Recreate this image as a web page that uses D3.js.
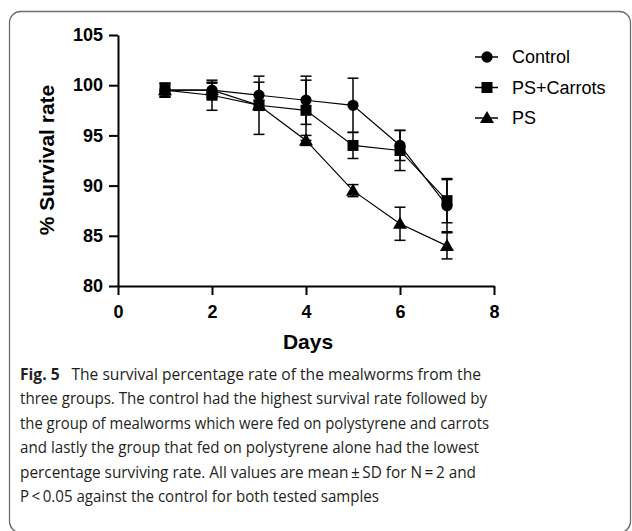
<!DOCTYPE html>
<html>
<head>
<meta charset="utf-8">
<style>
  body { margin: 0; background: #fff; }
  svg { font-family: Arial, "Liberation Sans", sans-serif; }
  .axis path, .axis line { stroke: #000; stroke-width: 2px; }
  .axis text { font-size: 18px; font-weight: bold; fill: #000; }
  .caption { font-family: "Open Sans", sans-serif; font-size: 16px; fill: #231f20; }
</style>
</head>
<body>
<svg width="632" height="531"></svg>
<script src="https://d3js.org/d3.v7.min.js"></script>
<script>
// values
var days = [1, 2, 3, 4, 5, 6, 7];
var controlMean = [99.5, 99.5, 99, 98.5, 98, 94, 88];
var controlSD   = [0.7, 0.7, 1.3, 2.4, 2.7, 1.5, 2.6];
var carrotsMean = [99.5, 99, 98, 97.5, 94, 93.5, 88.5];
var carrotsSD   = [0.7, 1.5, 2.9, 3.0, 1.3, 2.0, 2.2];
var psMean      = [99.5, 99.5, 98, 94.5, 89.5, 86.2, 84];
var psSD        = [0.6, 0.8, 0.5, 0.5, 0.6, 1.65, 1.3];

var seriesNames = ["Control", "PS+Carrots", "PS"];
var xTicks = [0, 2, 4, 6, 8];
var yTicks = [80, 85, 90, 95, 100, 105];

var captionLines = [
  "The survival percentage rate of the mealworms from the",
  "three groups. The control had the highest survival rate followed by",
  "the group of mealworms which were fed on polystyrene and carrots",
  "and lastly the group that fed on polystyrene alone had the lowest",
  "percentage surviving rate. All values are mean\u2009\u00b1\u2009SD for N\u2009=\u20092 and",
  "P\u2009<\u20090.05 against the control for both tested samples"
];
var captionWidths = [461, 467, 469, 459, 456, 359];

var svg = d3.select("svg");

// panel frame
svg.append("rect")
    .attr("x", 9.5).attr("y", 11.5)
    .attr("width", 621).attr("height", 521)
    .attr("rx", 11)
    .attr("fill", "none")
    .attr("stroke", "#6d6e71")
    .attr("stroke-width", 1.3);

var x = d3.scaleLinear().domain([0, 8]).range([118, 494]);
var y = d3.scaleLinear().domain([80, 105]).range([286, 35]);

svg.append("g")
    .attr("class", "axis")
    .attr("transform", "translate(0,286)")
    .call(d3.axisBottom(x).tickValues(xTicks).tickSize(9).tickPadding(10).tickSizeOuter(0));

svg.append("g")
    .attr("class", "axis")
    .attr("transform", "translate(118,0)")
    .call(d3.axisLeft(y).tickValues(yTicks).tickSize(9).tickPadding(6).tickSizeOuter(0));

svg.append("text")
    .attr("x", 308).attr("y", 349)
    .attr("text-anchor", "middle")
    .style("font-size", "21px").style("font-weight", "bold")
    .text("Days");

svg.append("text")
    .attr("transform", "translate(54,160) rotate(-90)")
    .attr("text-anchor", "middle")
    .style("font-size", "21px").style("font-weight", "bold")
    .text("% Survival rate");

function rows(means, sds) {
  return days.map(function(d, i) { return { day: d, mean: means[i], sd: sds[i] }; });
}

var series = [
  { name: "PS", shape: "triangle", data: rows(psMean, psSD) },
  { name: "PS+Carrots", shape: "square", data: rows(carrotsMean, carrotsSD) },
  { name: "Control", shape: "circle", data: rows(controlMean, controlSD) }
];

var symbols = {
  circle: d3.symbol().type(d3.symbolCircle).size(100),
  square: d3.symbol().type(d3.symbolSquare).size(121),
  triangle: d3.symbol().type(d3.symbolTriangle).size(85)
};

var line = d3.line()
    .x(function(d) { return x(d.day); })
    .y(function(d) { return y(d.mean); });

// error bars first
series.forEach(function(s) {
  var g = svg.append("g");
  s.data.forEach(function(d) {
    var cx = x(d.day), top = y(d.mean + d.sd), bot = y(d.mean - d.sd);
    g.append("line").attr("x1", cx).attr("x2", cx).attr("y1", top).attr("y2", bot)
        .attr("stroke", "#000").attr("stroke-width", 1.5);
    [top, bot].forEach(function(yy) {
      g.append("line").attr("x1", cx - 5.5).attr("x2", cx + 5.5).attr("y1", yy).attr("y2", yy)
          .attr("stroke", "#000").attr("stroke-width", 1.5);
    });
  });
});

series.forEach(function(s) {
  svg.append("path")
      .datum(s.data)
      .attr("fill", "none")
      .attr("stroke", "#000")
      .attr("stroke-width", 1.2)
      .attr("d", line);
});

series.forEach(function(s) {
  svg.append("g").selectAll("path")
      .data(s.data)
    .enter().append("path")
      .attr("transform", function(d) {
        return "translate(" + x(d.day) + "," + (y(d.mean) + (s.shape === "triangle" ? 1 : 0)) + ")";
      })
      .attr("d", symbols[s.shape]())
      .attr("fill", "#000");
});

// legend
var legendShapes = { "Control": "circle", "PS+Carrots": "square", "PS": "triangle" };
var legend = svg.append("g").selectAll("g")
    .data(seriesNames)
  .enter().append("g")
    .attr("transform", function(d, i) { return "translate(0," + (57 + i * 30.5) + ")"; });

legend.append("line")
    .attr("x1", 475).attr("x2", 498)
    .attr("stroke", "#000").attr("stroke-width", 1.5);
legend.append("path")
    .attr("transform", function(d) { return "translate(487," + (d === "PS" ? 1 : 0) + ")"; })
    .attr("d", function(d) { return symbols[legendShapes[d]](); })
    .attr("fill", "#000");
legend.append("text")
    .attr("x", 512).attr("dy", "0.36em")
    .style("font-size", "18px")
    .text(function(d) { return d; });

// caption
var cap = svg.append("g").attr("class", "caption");
captionLines.forEach(function(txt, i) {
  var t = cap.append("text")
      .attr("x", 20)
      .attr("y", 380 + i * 24.4)
      .attr("textLength", captionWidths[i])
      .attr("lengthAdjust", "spacingAndGlyphs");
  if (i === 0) {
    t.append("tspan").style("font-weight", "bold").text("Fig. 5");
    t.append("tspan").text("\u2002 " + txt);
  } else {
    t.text(txt);
  }
});
</script>
</body>
</html>
